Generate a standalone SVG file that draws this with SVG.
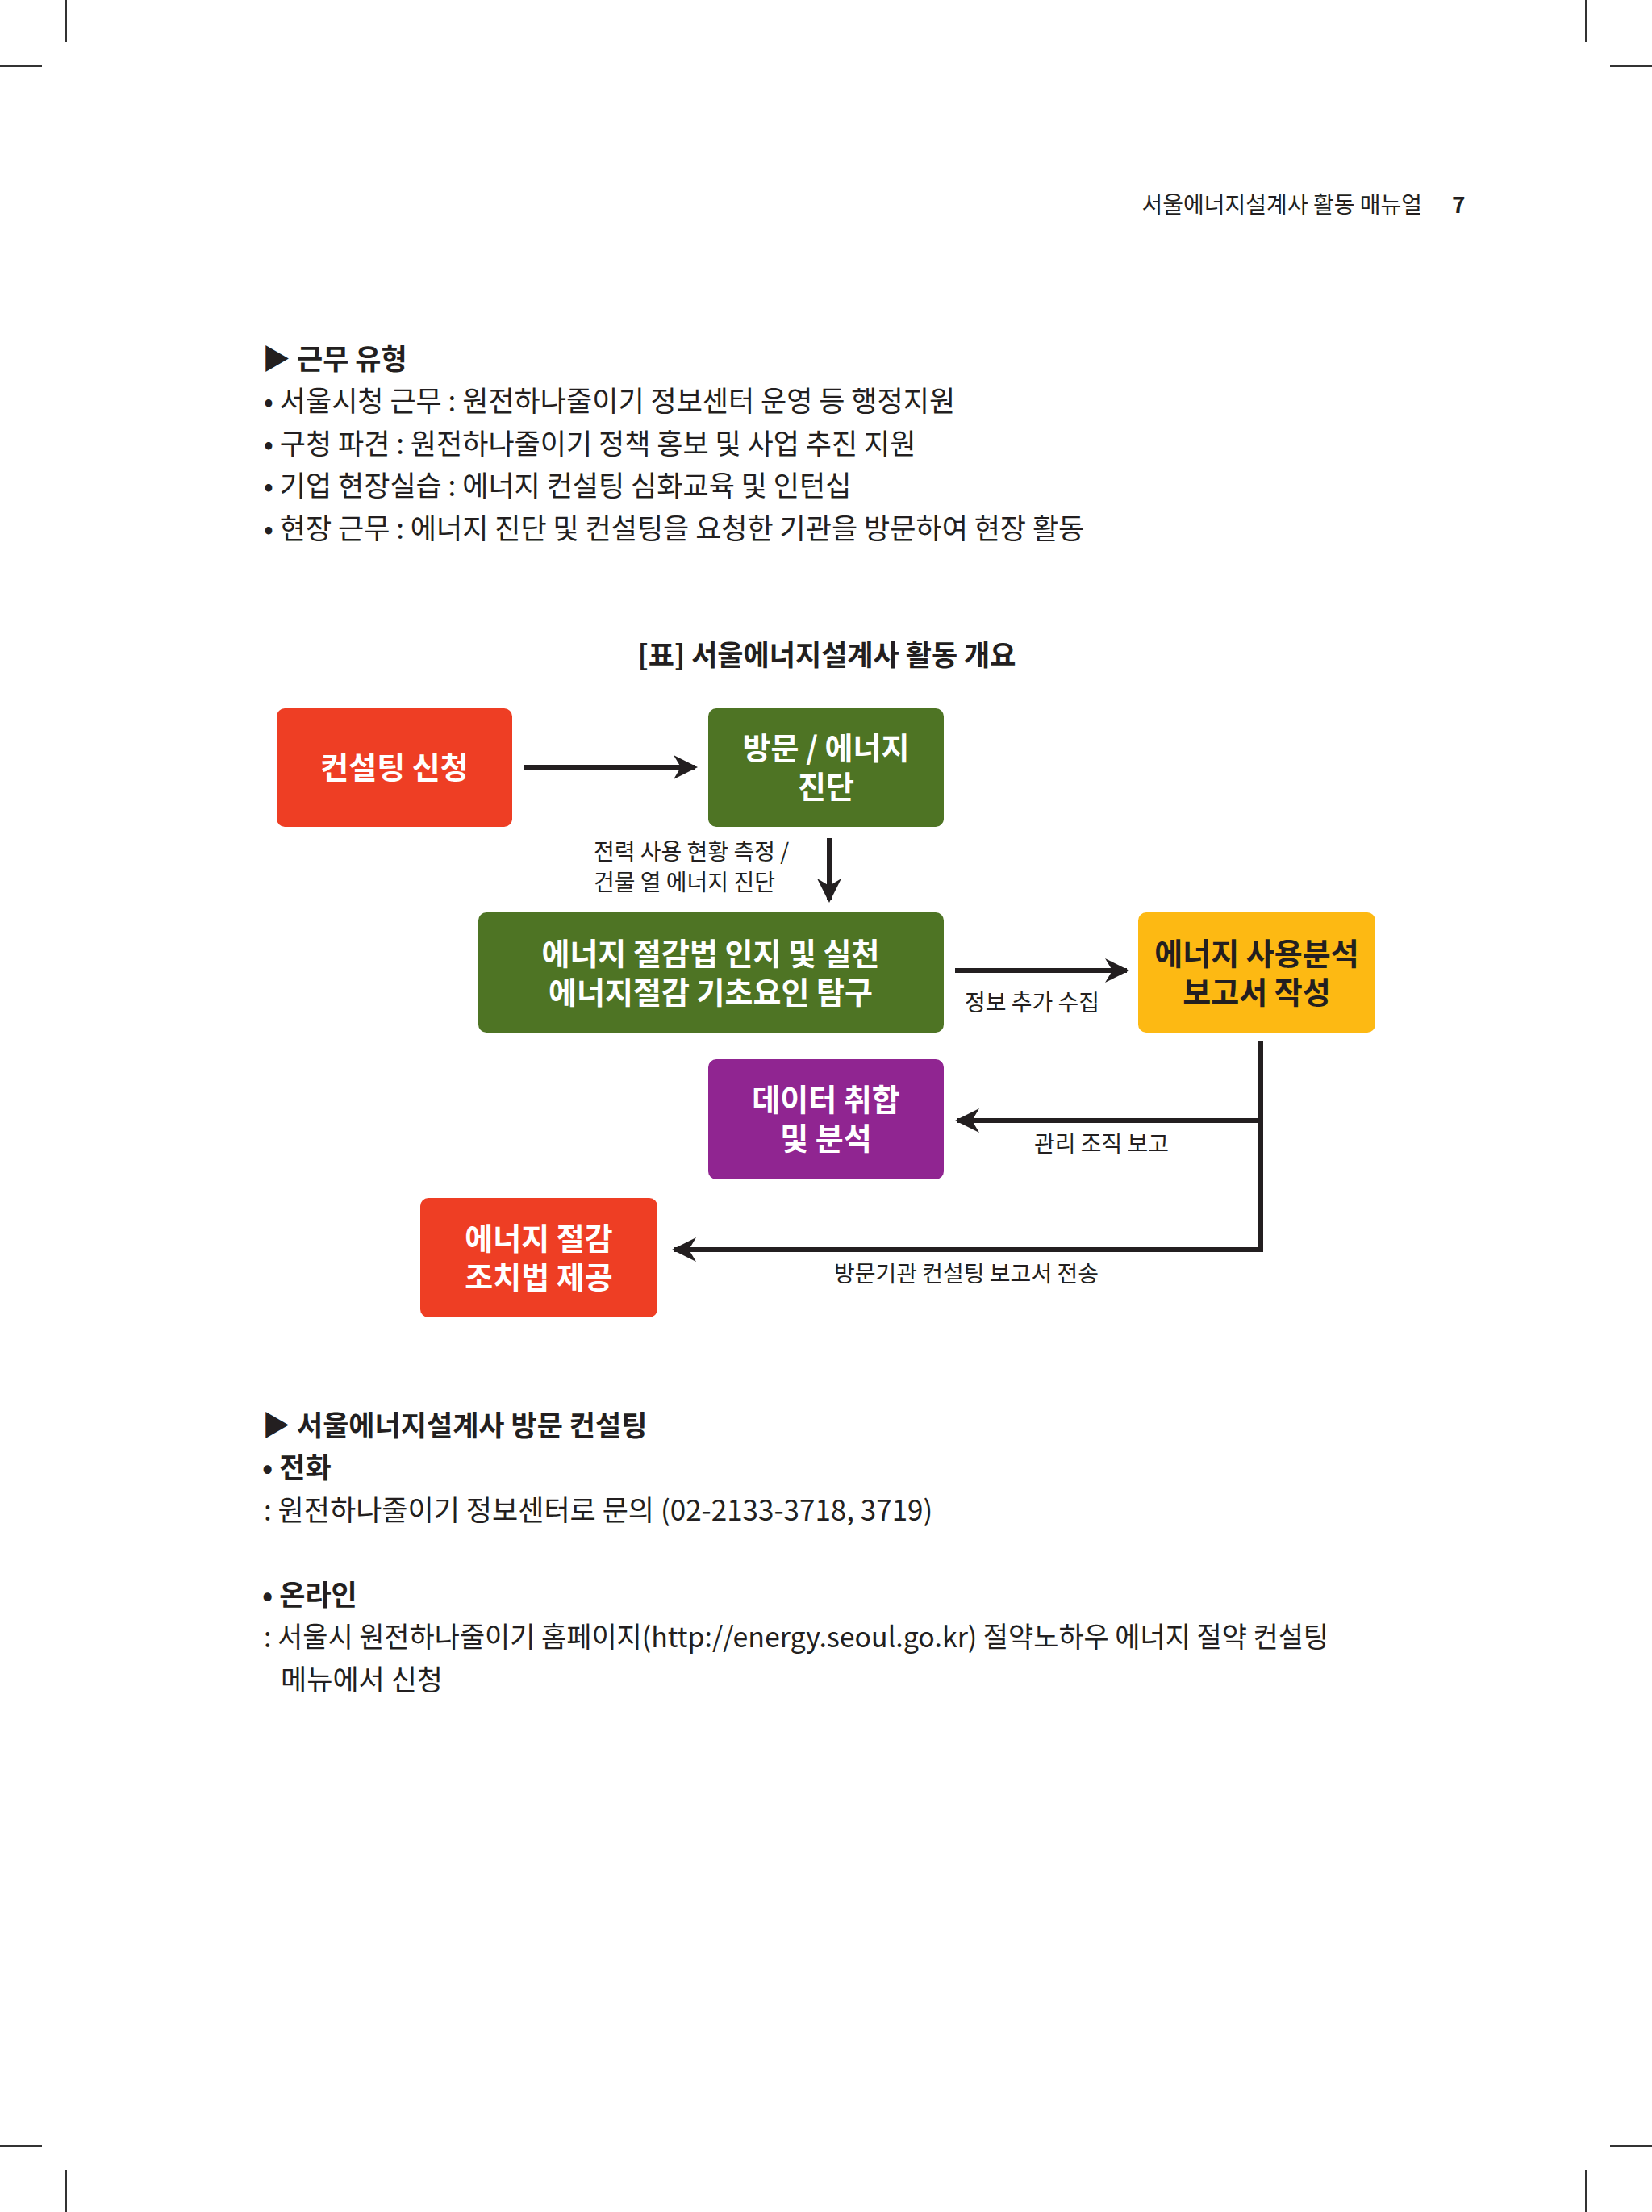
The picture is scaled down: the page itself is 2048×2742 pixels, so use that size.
<svg xmlns="http://www.w3.org/2000/svg" width="2048" height="2742" viewBox="0 0 2048 2742">
<defs>
<style>
text{font-family:"Noto Sans CJK KR","Noto Sans",sans-serif;fill:#231f20}
.b{font-size:35px}
.bb{font-size:35px;font-weight:bold}
.n{font-size:38px;font-weight:bold;fill:#fff;text-anchor:middle}
.l{font-size:28px}
.c{stroke:#231f20;stroke-width:6;fill:none}
.m{stroke:#333;stroke-width:2}
</style>
<marker id="a" viewBox="0 0 10 10" refX="9" refY="5" markerWidth="5" markerHeight="5" orient="auto" markerUnits="strokeWidth"><path d="M0,0 L10,5 L0,10 L3,5 z" fill="#231f20"/></marker>
</defs>
<rect width="2048" height="2742" fill="#fff"/>
<g id="crop">
<line class="m" x1="82" y1="0" x2="82" y2="52"/><line class="m" x1="0" y1="82" x2="52" y2="82"/>
<line class="m" x1="1966" y1="0" x2="1966" y2="52"/><line class="m" x1="1996" y1="82" x2="2048" y2="82"/>
<line class="m" x1="82" y1="2690" x2="82" y2="2742"/><line class="m" x1="0" y1="2660" x2="52" y2="2660"/>
<line class="m" x1="1966" y1="2690" x2="1966" y2="2742"/><line class="m" x1="1996" y1="2660" x2="2048" y2="2660"/>
</g>
<g id="header">
<text x="1763" y="264" font-size="28" text-anchor="end" fill="#444">서울에너지설계사 활동 매뉴얼</text>
<text x="1800" y="264" font-size="28" font-weight="bold" fill="#444">7</text>
</g>
<g id="text1">
<text class="bb" x="325" y="458">▶ 근무 유형</text>
<text class="b" x="327" y="510">• 서울시청 근무 : 원전하나줄이기 정보센터 운영 등 행정지원</text>
<text class="b" x="327" y="563">• 구청 파견 : 원전하나줄이기 정책 홍보 및 사업 추진 지원</text>
<text class="b" x="327" y="615">• 기업 현장실습 : 에너지 컨설팅 심화교육 및 인턴십</text>
<text class="b" x="327" y="668">• 현장 근무 : 에너지 진단 및 컨설팅을 요청한 기관을 방문하여 현장 활동</text>
<text class="bb" x="1025" y="825" text-anchor="middle">[표] 서울에너지설계사 활동 개요</text>
</g>
<g id="n1"><rect x="343" y="878" width="292" height="147" rx="10" fill="#EE3E24"/><text class="n" x="489" y="965">컨설팅 신청</text></g>
<g id="n2"><rect x="878" y="878" width="292" height="147" rx="10" fill="#4E7424"/><text class="n" x="1024" y="941">방문 / 에너지<tspan x="1024" dy="48">진단</tspan></text></g>
<g id="n3"><rect x="593" y="1131" width="577" height="149" rx="10" fill="#4E7424"/><text class="n" x="881" y="1196">에너지 절감법 인지 및 실천<tspan x="881" dy="48">에너지절감 기초요인 탐구</tspan></text></g>
<g id="n4"><rect x="1411" y="1131" width="294" height="149" rx="10" fill="#FDB913"/><text class="n" x="1558" y="1196" style="fill:#231f20">에너지 사용분석<tspan x="1558" dy="48">보고서 작성</tspan></text></g>
<g id="n5"><rect x="878" y="1313" width="292" height="149" rx="10" fill="#902591"/><text class="n" x="1024" y="1377">데이터 취합<tspan x="1024" dy="48">및 분석</tspan></text></g>
<g id="n6"><rect x="521" y="1485" width="294" height="148" rx="10" fill="#EE3E24"/><text class="n" x="668" y="1549">에너지 절감<tspan x="668" dy="48">조치법 제공</tspan></text></g>
<g id="connectors">
<line class="c" x1="649" y1="951" x2="862" y2="951" marker-end="url(#a)"/>
<line class="c" x1="1028" y1="1039" x2="1028" y2="1116" marker-end="url(#a)"/>
<line class="c" x1="1184" y1="1203" x2="1397" y2="1203" marker-end="url(#a)"/>
<polyline class="c" points="1563,1291 1563,1389 1187,1389" marker-end="url(#a)"/>
<polyline class="c" points="1563,1385 1563,1549 836,1549" marker-end="url(#a)"/>
<text class="l" x="736" y="1066">전력 사용 현황 측정 /<tspan x="736" dy="38">건물 열 에너지 진단</tspan></text>
<text class="l" x="1196" y="1253">정보 추가 수집</text>
<text class="l" x="1282" y="1428">관리 조직 보고</text>
<text class="l" x="1034" y="1589">방문기관 컨설팅 보고서 전송</text>
</g>
<g id="text2">
<text class="bb" x="325" y="1780">▶ 서울에너지설계사 방문 컨설팅</text>
<text class="bb" x="325" y="1832">• 전화</text>
<text class="b" x="327" y="1885">: 원전하나줄이기 정보센터로 문의 (02-2133-3718, 3719)</text>
<text class="bb" x="325" y="1990">• 온라인</text>
<text class="b" x="327" y="2042" textLength="1320" lengthAdjust="spacingAndGlyphs">: 서울시 원전하나줄이기 홈페이지(http://energy.seoul.go.kr) 절약노하우 에너지 절약 컨설팅</text>
<text class="b" x="348" y="2095">메뉴에서 신청</text>
</g>
</svg>
